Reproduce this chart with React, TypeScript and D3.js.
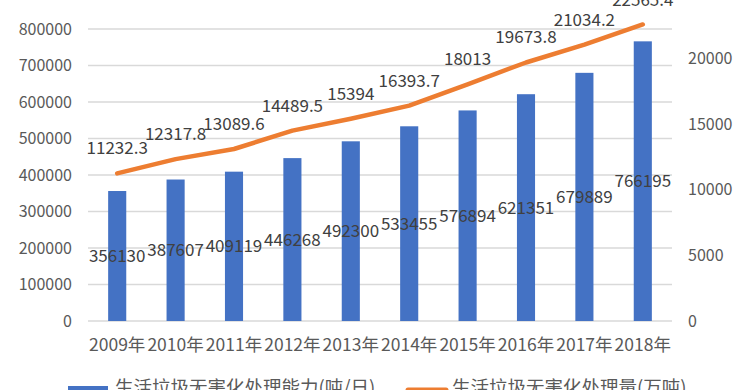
import * as d3 from 'd3'

const years = ['2009年', '2010年', '2011年', '2012年', '2013年', '2014年', '2015年', '2016年', '2017年', '2018年']
const capacity = [356130, 387607, 409119, 446268, 492300, 533455, 576894, 621351, 679889, 766195]
const treated = [11232.3, 12317.8, 13089.6, 14489.5, 15394, 16393.7, 18013, 19673.8, 21034.2, 22565.4]
const leftTicks = [0, 100000, 200000, 300000, 400000, 500000, 600000, 700000, 800000, 900000]
const rightTicks = [0, 5000, 10000, 15000, 20000, 25000]
const legendNames = ['生活垃圾无害化处理能力(吨/日)', '生活垃圾无害化处理量(万吨)']

const W = 750
const H = 390
const font = '"Noto Sans CJK SC", "Noto Sans", sans-serif'
const blue = '#4472C4'
const orange = '#ED7D31'

export default function App() {
  const x = d3.scaleBand<string>().domain(years).range([88, 672]).paddingInner(0.69).paddingOuter(0.345)
  const yL = d3.scaleLinear().domain([0, 900000]).range([321, -7.5])
  const yR = d3.scaleLinear().domain([0, 25000]).range([321, -7.5])
  const cx = (d: string) => (x(d) ?? 0) + x.bandwidth() / 2

  const line = d3.line<number>()
    .x((_, i) => cx(years[i]))
    .y(d => yR(d))

  return (
    <div style={{ position: 'absolute', left: 0, top: 0 }}>
      <svg width={W} height={H} style={{ display: 'block', background: '#fff' }} fontFamily={font}>
        {/* gridlines */}
        {leftTicks.map(t => (
          <line key={t} x1={88} x2={672} y1={yL(t)} y2={yL(t)} stroke="#d9d9d9" strokeWidth={1.5} />
        ))}

        {/* left axis */}
        {leftTicks.map(t => (
          <text key={t} x={72} y={yL(t)} dy="0.35em" textAnchor="end" fontSize={16} fill="#595959">{t}</text>
        ))}

        {/* right axis */}
        {rightTicks.map(t => (
          <text key={t} x={688} y={yR(t)} dy="0.35em" textAnchor="start" fontSize={16} fill="#595959">{t}</text>
        ))}

        {/* bars */}
        {capacity.map((v, i) => (
          <rect key={i} x={x(years[i])} y={yL(v)} width={x.bandwidth()} height={yL(0) - yL(v)} fill={blue} />
        ))}

        {/* line */}
        <path d={line(treated) ?? ''} fill="none" stroke={orange} strokeWidth={4.5} strokeLinejoin="round" strokeLinecap="round" />

        {/* bar labels (centre) */}
        {capacity.map((v, i) => (
          <text key={i} x={cx(years[i])} y={(yL(v) + yL(0)) / 2} dy="0.36em" textAnchor="middle" fontSize={17} fill="#404040">{v}</text>
        ))}

        {/* line labels (above) */}
        {treated.map((v, i) => (
          <text key={i} x={cx(years[i])} y={yR(v) - 19} textAnchor="middle" fontSize={17} fill="#404040">{v}</text>
        ))}

        {/* x axis labels */}
        {years.map(d => (
          <text key={d} x={cx(d)} y={351} textAnchor="middle" fontSize={17.5} fill="#595959">{d}</text>
        ))}

        {/* legend, cut off at the bottom */}
        <rect x={68} y={386} width={40} height={10} fill={blue} />
        <text x={115} y={394} fontSize={18.5} fill="#595959">{legendNames[0]}</text>
        <line x1={408} x2={446} y1={390} y2={390} stroke={orange} strokeWidth={5} strokeLinecap="round" />
        <text x={452} y={394} fontSize={18.5} fill="#595959">{legendNames[1]}</text>
      </svg>
    </div>
  )
}
